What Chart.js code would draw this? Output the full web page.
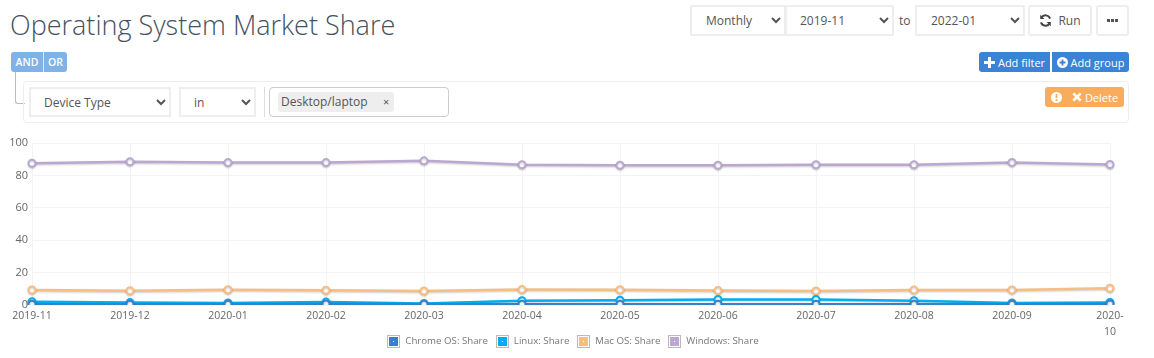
<!DOCTYPE html>
<html>
<head>
<meta charset="utf-8">
<title>Operating System Market Share</title>
<script src="https://cdn.jsdelivr.net/npm/chart.js@4"></script>
<style>
    html, body { margin: 0; padding: 0; background: #fff; }
    body { width: 1154px; height: 358px; position: relative; overflow: hidden; font-family: "Open Sans", sans-serif; color: #555; }
    .abs { position: absolute; box-sizing: border-box; }
    h1 { margin: 0; left: 10px; top: 6px; font-size: 27px; line-height: 37px; font-weight: 300; color: #44525f; white-space: nowrap; }
    select { font-family: "Open Sans", sans-serif; font-size: 12px; color: #555; background: #fff; border: 2px solid #eee; padding: 0 0 0 10px; border-radius: 0; }
    .btn { display: flex; align-items: center; justify-content: center; font-size: 11px; border-radius: 3px; white-space: nowrap; }
    .plain { border: 2px solid #eee; color: #555; background: #fff; font-size: 12px; }
    .blue { background: #3a83d5; color: #fff; }
    svg { display: block; }
    #chartBox { left: 0; top: 130px; width: 1154px; height: 228px; }
</style>
</head>
<body>
<h1 class="abs">Operating System Market Share</h1>

<select class="abs" style="left:690px;top:5px;width:96px;height:31px;padding-left:10px"><option>Monthly</option></select>
<select class="abs" style="left:785px;top:5px;width:109px;height:31px;padding-left:9px"><option>2019-11</option></select>
<div class="abs" style="left:899px;top:12px;font-size:12px">to</div>
<select class="abs" style="left:915px;top:5px;width:110px;height:31px;padding-left:10px"><option>2022-01</option></select>
<div class="abs btn plain" style="left:1028px;top:5px;width:64px;height:31px">
    <svg width="13" height="13" viewBox="0 0 16 16" style="margin-right:6px"><path d="M13.6 5.6A6 6 0 0 0 3 4.2M2.4 10.4A6 6 0 0 0 13 11.8" fill="none" stroke="#444" stroke-width="2.4"/><path d="M1.5 1v5.2h5.2zM14.5 15V9.8H9.3z" fill="#444"/></svg>Run
</div>
<div class="abs btn plain" style="left:1096px;top:5px;width:33px;height:31px">
    <svg width="11" height="3" viewBox="0 0 11 3"><rect width="3" height="3" fill="#555"/><rect x="4" width="3" height="3" fill="#555"/><rect x="8" width="3" height="3" fill="#555"/></svg>
</div>

<div class="abs btn blue" style="left:11px;top:52px;width:32px;height:20px;background:#7fb2e6;font-weight:600;font-size:10.5px;border-radius:3px 0 0 3px">AND</div>
<div class="abs btn blue" style="left:43px;top:52px;width:24px;height:20px;background:#7fb2e6;font-weight:600;font-size:10.5px;border-radius:0 3px 3px 0;border-left:1px solid #dfe9f5">OR</div>
<div class="abs btn blue" style="left:979px;top:52px;width:71px;height:20px;border-radius:3px 0 0 3px">
    <svg width="11" height="11" viewBox="0 0 11 11" style="margin-right:3px"><path d="M4 0h3v4h4v3H7v4H4V7H0V4h4z" fill="#fff"/></svg>Add filter
</div>
<div class="abs btn blue" style="left:1052px;top:52px;width:77px;height:20px;border-radius:0 3px 3px 0">
    <svg width="11" height="11" viewBox="0 0 11 11" style="margin-right:3px"><circle cx="5.5" cy="5.5" r="5.5" fill="#fff"/><path d="M4.6 2.5h1.8v2.1h2.1v1.8H6.4v2.1H4.6V6.4H2.5V4.6h2.1z" fill="#3a83d5"/></svg>Add group
</div>

<div class="abs" style="left:15px;top:72px;width:10px;height:32px;border-left:1px solid #bbb;border-bottom:1px solid #bbb;border-bottom-left-radius:3px"></div>
<div class="abs" style="left:23px;top:81px;width:1106px;height:42px;border:1px solid #eee;border-radius:4px"></div>
<select class="abs" style="left:29px;top:87px;width:142px;height:30px;padding-left:9px"><option>Device Type</option></select>
<select class="abs" style="left:179px;top:87px;width:77px;height:30px;padding-left:9px"><option>in</option></select>
<div class="abs" style="left:264px;top:87px;width:1px;height:30px;background:#ddd"></div>
<div class="abs" style="left:269px;top:87px;width:180px;height:30px;border:1px solid #ccc;border-radius:4px"></div>
<div class="abs" style="left:278px;top:92px;width:116px;height:20px;background:#eee;border-radius:3px;font-size:12px;line-height:20px;padding-left:3px;white-space:nowrap">Desktop/laptop<span style="position:absolute;left:105px;font-size:11px">&#215;</span></div>
<div class="abs btn" style="left:1045px;top:87px;width:79px;height:20px;background:#f9ad5c;color:#fff">
    <svg width="11" height="11" viewBox="0 0 11 11" style="margin-right:10px"><circle cx="5.5" cy="5.5" r="5.5" fill="#fff"/><rect x="4.6" y="2" width="1.8" height="4.2" fill="#f9ad5c"/><rect x="4.6" y="7.2" width="1.8" height="1.8" fill="#f9ad5c"/></svg>
    <svg width="10" height="10" viewBox="0 0 10 10" style="margin-right:3px"><path d="M1.3 1.3l7.4 7.4M8.7 1.3L1.3 8.7" stroke="#fff" stroke-width="2.6"/></svg>Delete
</div>

<div class="abs" id="chartBox"><canvas id="chartShare"></canvas></div>

<script>
var meses = ['2019-11', '2019-12', '2020-01', '2020-02', '2020-03', '2020-04', '2020-05', '2020-06', '2020-07', '2020-08', '2020-09', '2020-10'];
var chromeOS = [0.5, 0.5, 0.5, 0.6, 0.5, 0.4, 0.4, 0.4, 0.5, 0.5, 0.5, 0.6];
var linux = [2.0, 1.5, 1.2, 1.8, 1.0, 2.7, 3.0, 3.4, 3.4, 2.6, 1.2, 1.6];
var macOS = [9.3, 8.8, 9.4, 9.1, 8.6, 9.5, 9.4, 9.0, 8.7, 9.2, 9.3, 10.4];
var windows = [87.5, 88.5, 87.9, 87.9, 89.0, 86.6, 86.3, 86.3, 86.6, 86.6, 88.0, 86.7];
var ticksY = [0, 20, 40, 60, 80, 100];

function serie(nome, valores, cor) {
    return {
        label: nome,
        data: valores,
        borderColor: cor,
        backgroundColor: cor,
        pointBackgroundColor: '#fff',
        pointBorderColor: cor,
        pointBorderWidth: 2,
        pointRadius: 3.5,
        borderWidth: 2.5,
        tension: 0
    };
}

// sombra por baixo das linhas
var sombraLinhas = {
    id: 'sombraLinhas',
    beforeDatasetsDraw: function (chart) {
        chart.ctx.save();
        chart.ctx.shadowColor = 'rgba(0,0,0,0.2)';
        chart.ctx.shadowBlur = 2;
        chart.ctx.shadowOffsetY = 1;
    },
    afterDatasetsDraw: function (chart) {
        chart.ctx.restore();
    }
};

// redesenha a caixa da legenda: borda cinza, anel branco, cor e ponto no centro
var legendaCaixas = {
    id: 'legendaCaixas',
    afterDraw: function (chart) {
        var ctx = chart.ctx;
        chart.legend.legendHitBoxes.forEach(function (box, i) {
            var x = Math.round(box.left), y = Math.round(box.top + (box.height - 12) / 2);
            ctx.save();
            ctx.fillStyle = '#fff';
            ctx.fillRect(x - 1, y - 1, 15, 15);
            ctx.strokeStyle = '#bbb';
            ctx.lineWidth = 1;
            ctx.strokeRect(x + 0.5, y + 0.5, 12, 12);
            ctx.fillStyle = chart.data.datasets[i].borderColor;
            ctx.fillRect(x + 2, y + 2, 9, 9);
            ctx.fillStyle = '#fff';
            ctx.fillRect(x + 6, y + 6, 1, 1);
            ctx.restore();
        });
    }
};

Chart.defaults.font.family = '"Open Sans", sans-serif';
Chart.defaults.color = '#666';

var ctx = document.getElementById('chartShare');
var chart = new Chart(ctx, {
    type: 'line',
    data: {
        labels: meses,
        datasets: [
            serie('Chrome OS: Share', chromeOS, '#3a7fcb'),
            serie('Linux: Share', linux, '#00aeef'),
            serie('Mac OS: Share', macOS, '#f8bd80'),
            serie('Windows: Share', windows, '#bba8d1')
        ]
    },
    options: {
        responsive: true,
        maintainAspectRatio: false,
        animation: false,
        layout: { padding: { top: 13, right: 8, left: 0, bottom: 1 } },
        scales: {
            x: {
                afterFit: function (scale) {
                    scale.height = 22;
                    // sem isso a segunda linha do ultimo rotulo fica cortada
                    scale._computeLabelArea = function () { return null; };
                },
                grid: { color: '#f3f3f3', drawTicks: false },
                border: { color: '#f3f3f3' },
                ticks: {
                    font: { size: 10.5, lineHeight: 1.43 },
                    padding: 4,
                    maxRotation: 0,
                    autoSkip: false,
                    callback: function (value, index) {
                        var rotulo = meses[index];
                        // o ultimo rotulo quebra em duas linhas na borda do grafico
                        return index === meses.length - 1 ? rotulo.replace('-', '-|').split('|') : rotulo;
                    }
                }
            },
            y: {
                min: 0,
                max: 100,
                afterBuildTicks: function (scale) {
                    scale.ticks = ticksY.map(function (v) { return { value: v }; });
                },
                afterFit: function (scale) { scale.width = 32; },
                grid: { color: '#f3f3f3', drawTicks: false },
                border: { color: '#f3f3f3' },
                ticks: { font: { size: 11 }, padding: 4 }
            },
            // eixo vazio so para reservar a margem direita sem deslocar a legenda
            margemDireita: {
                position: 'right',
                display: true,
                afterFit: function (scale) { scale.width = 36; },
                grid: { display: false },
                border: { display: false },
                ticks: { display: false }
            }
        },
        plugins: {
            tooltip: { enabled: false },
            legend: {
                position: 'bottom',
                labels: {
                    font: { size: 9.7 },
                    boxWidth: 13,
                    boxHeight: 12,
                    padding: 8,
                    generateLabels: function (chart) {
                        return chart.data.datasets.map(function (ds, i) {
                            return { text: ds.label, fillStyle: ds.borderColor, strokeStyle: '#bbb', fontColor: '#777', lineWidth: 1, datasetIndex: i };
                        });
                    }
                }
            }
        }
    },
    plugins: [sombraLinhas, legendaCaixas]
});
</script>
</body>
</html>
